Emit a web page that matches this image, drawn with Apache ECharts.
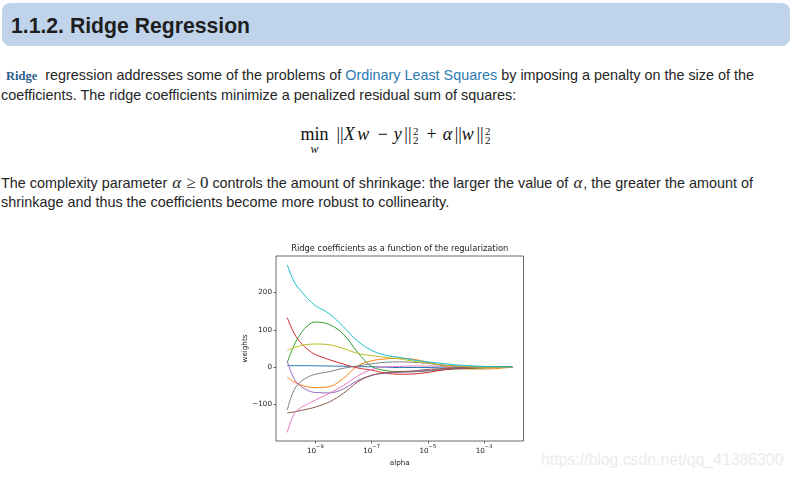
<!DOCTYPE html>
<html>
<head>
<meta charset="utf-8">
<script src="https://cdn.jsdelivr.net/npm/echarts@6/dist/echarts.min.js"></script>
<style>
  html, body { margin:0; padding:0; background:#fff; width:793px; height:481px; overflow:hidden; }
  body { font-family:'Liberation Sans', Arial, sans-serif; color:#222; position:relative; }
  .hdr { position:absolute; left:2px; top:3px; width:788px; height:43px; background:#bfd4ea; border-radius:8px; }
  .ttl { position:absolute; left:11px; top:15px; font-size:21.2px; line-height:21px; font-weight:bold; color:#1e1e1e; white-space:nowrap; }
  .ln { position:absolute; left:1px; font-size:14.4px; line-height:15px; white-space:nowrap; color:#252525; }
  .code { font-family:'Liberation Serif', serif; font-weight:bold; font-size:12.5px; color:#2b5d8a; margin-left:5px; margin-right:4px; }
  a { color:#2a7ab0; text-decoration:none; }
  .mi { font-family:'Liberation Serif', serif; font-style:italic; font-size:17px; margin:0 1px; }
  .mr { font-family:'Liberation Serif', serif; font-size:17px; }
  #formula { position:absolute; left:0; width:793px; top:126px; text-align:center; font-family:'Liberation Serif', serif; font-size:18px; line-height:17px; color:#111; white-space:nowrap; }
  #formula i { font-style:italic; margin-right:2.5px; }
  .op { position:relative; display:inline-block; margin-right:8px; }
  .bin { display:inline-block; margin:0 6px; }
  .under { position:absolute; left:50%; transform:translateX(-50%); top:15px; font-style:italic; font-size:12px; }
  .ss { display:inline-block; vertical-align:middle; font-size:11px; line-height:9px; text-align:left; margin-left:1.5px; margin-right:2px; }
  .ss span { display:block; }
  #chart { position:absolute; left:240px; top:240px; width:290px; height:230px; }
  .wm { position:absolute; left:541px; top:452px; font-size:15.8px; line-height:16px; color:#ebebeb; white-space:nowrap; }
</style>
</head>
<body>
<div class="hdr"></div>
<div class="ttl">1.1.2. Ridge Regression</div>
<div class="ln" style="top:68px;"><span class="code">Ridge</span> regression addresses some of the problems of <a>Ordinary Least Squares</a> by imposing a penalty on the size of the</div>
<div class="ln" style="top:88px;">coefficients. The ridge coefficients minimize a penalized residual sum of squares:</div>
<div id="formula"><span class="op">min<span class="under">w</span></span>||<i>X</i><i>w</i><span class="bin">−</span><i>y</i>||<span class="ss"><span>2</span><span>2</span></span><span class="bin">+</span><i>α</i>||<i>w</i>||<span class="ss"><span>2</span><span>2</span></span></div>
<div class="ln" style="top:175px;">The complexity parameter <span class="mi">α</span> <span class="mr">≥ 0</span> controls the amount of shrinkage: the larger the value of <span class="mi">α</span>, the greater the amount of</div>
<div class="ln" style="top:195px;">shrinkage and thus the coefficients become more robust to collinearity.</div>
<div id="chart"></div>
<div class="wm">https://blog.csdn.net/qq_41386300</div>
<script>
// log10(alpha) sample positions
const alphaExp = [-10, -9.75, -9.5, -9.25, -9, -8.5, -8, -7.5, -7, -6.5, -6, -5.5, -5, -4.5, -4, -3, -2];
// ridge coefficient paths (weights), one per feature
const w0 = [4, 4, 4, 4, 3.5, 3, 2.5, 1.5, 1, 0, -1, -1, -1, 0, 0, 0, 0];
const w1 = [-27, -40, -48, -53, -55, -52, -30, 3, 17, 22, 24, 21, 13, 4, -4, -5, 0];
const w2 = [12, 60, 92, 113, 121, 114, 88, 40, 2, -9, -12, -12, -10, -7, -5, -2, 0];
const w3 = [133, 90, 64, 46, 34, 20, 8, -2, -8, -16, -19, -18, -14, -8, -4, -1, 0];
const w4 = [16, -32, -52, -63, -68, -69, -58, -36, -22, -16, -14, -12, -9, -5, -3, 0, 0];
const w5 = [-123, -120, -116, -112, -107, -93, -70, -40, -22, -15, -12, -10, -6, -4, -2, 0, 0];
const w6 = [-175, -125, -108, -98, -88, -70, -49, -24, -6, 1, 2, 3, 3, 3, 2, 0, 0];
const w7 = [-115, -60, -38, -26, -19, -12, -3, 3, 9, 13, 14, 13, 10, 6, 3, 0, 0];
const w8 = [45, 52, 58, 61, 62, 60, 50, 37, 31, 26, 22, 16, 11, 6, 3, 0, 0];
const w9 = [274, 228, 203, 182, 165, 143, 108, 70, 45, 32, 26, 19, 14, 10, 6, 2, 1];
const xTickExp = [-9, -7, -5, -3];
const yTicks = [-100, 0, 100, 200];
const colors = ['#1f77b4','#ff7f0e','#2ca02c','#d62728','#9467bd','#8c564b','#e377c2','#7f7f7f','#bcbd22','#17becf'];
const paths = [w0, w1, w2, w3, w4, w5, w6, w7, w8, w9];

const chart = echarts.init(document.getElementById('chart'), null, {renderer:'canvas'});
const txt = '#222';
const fontFam = "'DejaVu Sans', sans-serif";
chart.setOption({
  animation: false,
  backgroundColor: '#fff',
  title: {
    text: 'Ridge coefficients as a function of the regularization',
    left: 159.75, top: 5, textAlign: 'center', padding: 0,
    textStyle: { fontSize: 8.3, fontWeight: 'normal', color: txt, fontFamily: fontFam }
  },
  graphic: [{
    type: 'text', x: 5, y: 108.5, rotation: Math.PI / 2,
    style: { text: 'weights', fontSize: 7.2, fill: txt, fontFamily: fontFam, align: 'center', verticalAlign: 'middle' }
  }],
  grid: { left: 36, top: 16, width: 247.5, height: 185, outerBoundsMode: 'none', containLabel: false,
          show: true, borderColor: '#444', borderWidth: 0.8, backgroundColor: 'transparent' },
  xAxis: {
    type: 'value', min: -10.4, max: -1.6,
    name: 'alpha', nameLocation: 'middle', nameGap: 17,
    nameTextStyle: { fontSize: 7.2, color: txt, fontFamily: fontFam },
    axisLine: { show: false, onZero: false },
    splitLine: { show: false },
    axisTick: { show: true, inside: false, length: 2.5, customValues: xTickExp, lineStyle: { color: '#444', width: 0.8 } },
    axisLabel: { show: true, customValues: xTickExp, margin: 3, color: txt, fontFamily: fontFam,
      formatter: v => '{b|10}{s|' + String(v).replace('-', '\u2212') + '}',
      rich: {
        b: { fontSize: 7.2, fontFamily: fontFam, color: txt, lineHeight: 11, verticalAlign: 'bottom' },
        s: { fontSize: 5.2, fontFamily: fontFam, color: txt, lineHeight: 11, verticalAlign: 'top' }
      }
    }
  },
  yAxis: {
    type: 'value', min: -198, max: 298,
    axisLine: { show: false, onZero: false },
    splitLine: { show: false },
    axisTick: { show: true, inside: false, length: 2.5, customValues: yTicks, lineStyle: { color: '#444', width: 0.8 } },
    axisLabel: { show: true, customValues: yTicks, margin: 4, fontSize: 7.2, color: txt, fontFamily: fontFam,
      formatter: v => v < 0 ? '\u2212' + (-v) : String(v) }
  },
  series: paths.map((p, i) => ({
    type: 'line',
    data: alphaExp.map((x, j) => [x, p[j]]),
    showSymbol: false,
    smooth: 0.4,
    lineStyle: { color: colors[i], width: 1 },
    itemStyle: { color: colors[i] },
    z: 2 + i
  }))
});
</script>
</body>
</html>
